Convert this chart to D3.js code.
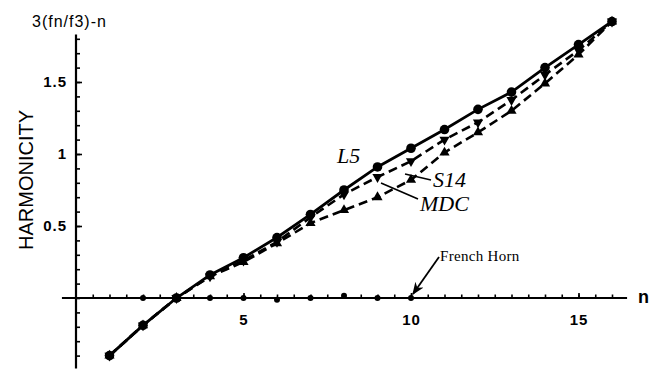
<!DOCTYPE html>
<html>
<head>
<meta charset="utf-8">
<script src="https://cdn.jsdelivr.net/npm/d3@7"></script>
<style>
  body { margin: 0; background: #fff; }
  .tick text { font-family: "Liberation Sans", Arial, sans-serif; font-size: 15px; font-weight: bold; fill: #000; letter-spacing: 1px; }
  .tick line { stroke: #000; stroke-width: 1.6; }
  .note { font-family: "Liberation Serif", "Times New Roman", serif; font-style: italic; font-size: 22px; }
</style>
</head>
<body>
<div id="chart"></div>
<script>
var svgWidth = 653;
var svgHeight = 371;

// harmonic number n
var nValues = [1, 2, 3, 4, 5, 6, 7, 8, 9, 10, 11, 12, 13, 14, 15, 16];
// harmonicity 3(fn/f3)-n for each instrument
var l5  = [-0.40, -0.19, 0.0, 0.16, 0.28, 0.42, 0.58, 0.75, 0.91, 1.04, 1.17, 1.31, 1.43, 1.60, 1.76, 1.92];
var s14 = [-0.40, -0.19, 0.0, 0.15, 0.26, 0.39, 0.56, 0.72, 0.84, 0.95, 1.10, 1.22, 1.375, 1.55, 1.72, 1.92];
var mdc = [-0.40, -0.19, 0.0, 0.15, 0.25, 0.38, 0.52, 0.61, 0.70, 0.82, 1.01, 1.15, 1.30, 1.49, 1.69, 1.92];
var hornN = [2, 3, 4, 5, 6, 7, 8, 9, 10];
var horn  = [0, 0, 0, 0, -0.012, 0, 0.015, 0, 0];

var xTicks = [5, 10, 15];
var yTicks = [0.5, 1, 1.5];

var svg = d3.select("#chart")
  .append("svg")
  .attr("width", svgWidth)
  .attr("height", svgHeight);

var x = d3.scaleLinear().domain([0, 16]).range([76, 612]);
var y = d3.scaleLinear().domain([0, 1.5]).range([298, 82]);

// axis lines
svg.append("line")
  .attr("x1", x(-0.42)).attr("x2", x(16.45))
  .attr("y1", y(0)).attr("y2", y(0))
  .attr("stroke", "#000").attr("stroke-width", 2.2);
svg.append("line")
  .attr("x1", x(0)).attr("x2", x(0))
  .attr("y1", y(1.83)).attr("y2", y(-0.49))
  .attr("stroke", "#000").attr("stroke-width", 2.2);

// minor ticks
svg.append("g")
  .attr("transform", `translate(0, ${y(0)})`)
  .call(d3.axisBottom(x).tickValues(d3.range(0.5, 16.5, 0.5)).tickSize(-3.5).tickFormat(""))
  .call(g => g.select(".domain").remove());
svg.append("g")
  .attr("transform", `translate(${x(0)}, 0)`)
  .call(d3.axisLeft(y).tickValues(d3.range(-4, 19).map(d => d / 10)).tickSize(-4).tickFormat(""))
  .call(g => g.select(".domain").remove());

// major ticks with labels
svg.append("g")
  .attr("transform", `translate(0, ${y(0)})`)
  .call(d3.axisBottom(x).tickValues(xTicks).tickSize(-5).tickPadding(16).tickFormat(d3.format("d")))
  .call(g => g.select(".domain").remove());
svg.append("g")
  .attr("transform", `translate(${x(0)}, 0)`)
  .call(d3.axisLeft(y).tickValues(yTicks).tickSize(-6).tickPadding(9).tickFormat(d => String(d)))
  .call(g => g.select(".domain").remove());

// axis titles
svg.append("text")
  .attr("x", 32).attr("y", 27)
  .style("font-family", "Liberation Sans, Arial, sans-serif")
  .style("font-size", "16px").style("letter-spacing", "1px")
  .text("3(fn/f3)-n");
svg.append("text")
  .attr("x", 638).attr("y", 303)
  .style("font-family", "Liberation Sans, Arial, sans-serif")
  .style("font-size", "18px").style("font-weight", "bold")
  .text("n");
svg.append("text")
  .attr("transform", "translate(33, 180) rotate(-90)")
  .attr("text-anchor", "middle")
  .style("font-family", "Liberation Sans, Arial, sans-serif")
  .style("font-size", "20px")
  .text("HARMONICITY");

function series(vals, dash, width) {
  var line = d3.line().x((d, i) => x(nValues[i])).y(d => y(d));
  svg.append("path")
    .datum(vals)
    .attr("d", line)
    .attr("fill", "none")
    .attr("stroke", "#000")
    .attr("stroke-width", width)
    .attr("stroke-dasharray", dash);
}

series(mdc, "9,5", 2.6);
series(s14, "9,5", 2.6);
series(l5, null, 2.8);

// markers
svg.selectAll(".mdc").data(mdc).enter().append("path")
  .attr("d", d3.symbol().type(d3.symbolTriangle).size(45))
  .attr("transform", (d, i) => `translate(${x(nValues[i])}, ${y(d)})`);
svg.selectAll(".s14").data(s14).enter().append("path")
  .attr("d", d3.symbol().type(d3.symbolTriangle).size(45))
  .attr("transform", (d, i) => `translate(${x(nValues[i])}, ${y(d)}) rotate(180)`);
svg.selectAll(".l5").data(l5).enter().append("circle")
  .attr("cx", (d, i) => x(nValues[i]))
  .attr("cy", d => y(d))
  .attr("r", 4.8);
svg.selectAll(".horn").data(horn).enter().append("circle")
  .attr("cx", (d, i) => x(hornN[i]))
  .attr("cy", d => y(d))
  .attr("r", 3);

// curve labels
svg.append("text").attr("class", "note").attr("x", 337).attr("y", 163).text("L5");
svg.append("text").attr("class", "note").attr("x", 433).attr("y", 187).text("S14");
svg.append("text").attr("class", "note").attr("x", 420).attr("y", 211).text("MDC");
svg.append("line")
  .attr("x1", 431).attr("y1", 180).attr("x2", 405).attr("y2", 174)
  .attr("stroke", "#000").attr("stroke-width", 1.5);
svg.append("line")
  .attr("x1", 418).attr("y1", 199).attr("x2", 381).attr("y2", 183)
  .attr("stroke", "#000").attr("stroke-width", 1.5);

// French Horn pointer
svg.append("defs").append("marker")
  .attr("id", "arrow").attr("viewBox", "0 0 10 10")
  .attr("refX", 9).attr("refY", 5)
  .attr("markerWidth", 7).attr("markerHeight", 7)
  .attr("orient", "auto")
  .append("path").attr("d", "M0,1 L10,5 L0,9 L3,5 Z");
svg.append("line")
  .attr("x1", 439).attr("y1", 257).attr("x2", 413).attr("y2", 294)
  .attr("stroke", "#000").attr("stroke-width", 1.8)
  .attr("marker-end", "url(#arrow)");
svg.append("text")
  .attr("x", 440).attr("y", 261)
  .style("font-family", "Liberation Serif, Times New Roman, serif")
  .style("font-size", "15px")
  .style("letter-spacing", "0.3px")
  .text("French Horn");
</script>
</body>
</html>
